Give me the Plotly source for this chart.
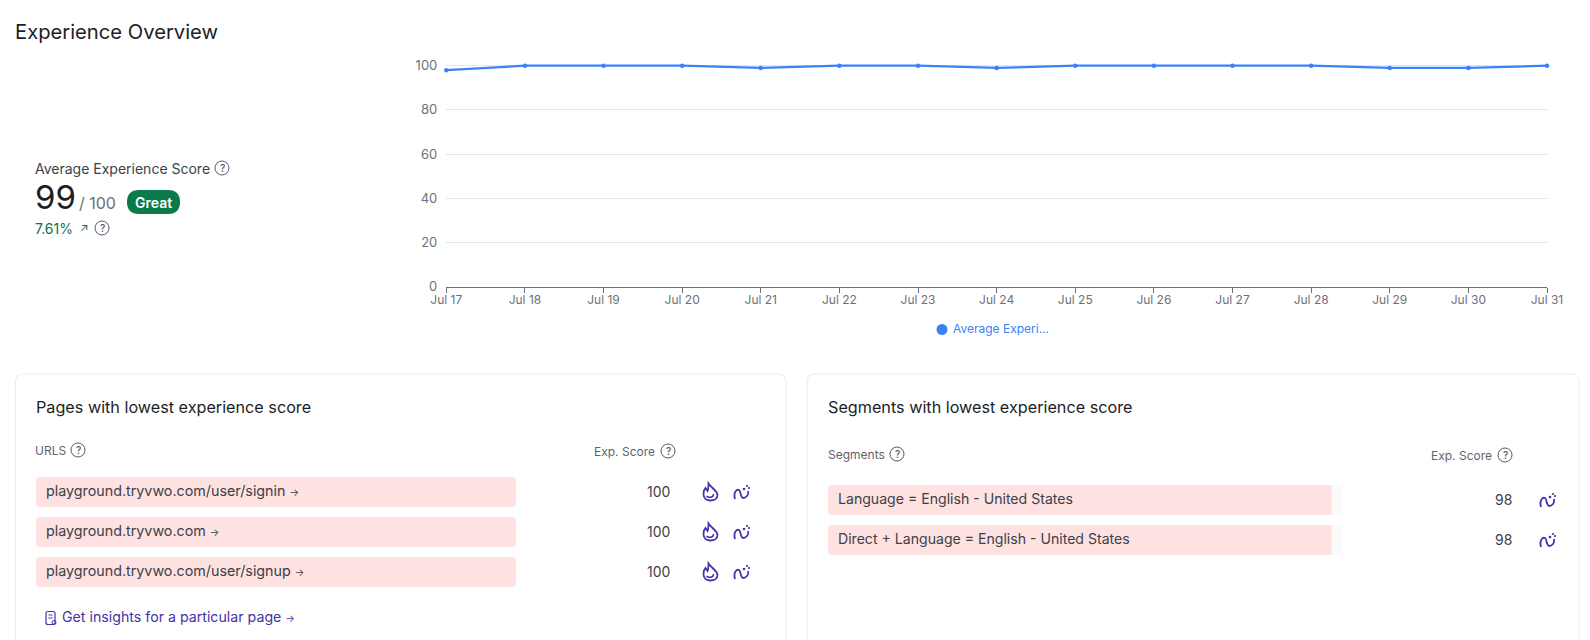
import plotly.graph_objects as go

# Chart data
days = ['Jul 17', 'Jul 18', 'Jul 19', 'Jul 20', 'Jul 21', 'Jul 22', 'Jul 23', 'Jul 24',
        'Jul 25', 'Jul 26', 'Jul 27', 'Jul 28', 'Jul 29', 'Jul 30', 'Jul 31']
daily_score = [98, 100, 100, 100, 99, 100, 100, 99, 100, 100, 100, 100, 99, 99, 100]
y_ticks = [0, 20, 40, 60, 80, 100]

pages = ['playground.tryvwo.com/user/signin', 'playground.tryvwo.com', 'playground.tryvwo.com/user/signup']
page_scores = [100, 100, 100]
segments = ['Language = English - United States', 'Direct + Language = English - United States']
segment_scores = [98, 98]

W, H = 1590, 640
BLUE = '#3b82f6'
PURPLE = '#4433a8'
INK = '#1b1e26'
BODY = '#3c3f48'
GREY = '#5f636d'
PINK = '#fee2e2'

fig = go.Figure()

# Line chart
fig.add_trace(go.Scatter(
    x=days, y=daily_score, mode='lines+markers', showlegend=False, cliponaxis=False,
    line=dict(color=BLUE, width=2.2), marker=dict(color=BLUE, size=4.5), xaxis='x', yaxis='y'
))

# Pages panel bars
fig.add_trace(go.Bar(
    y=list(range(len(pages))), x=page_scores, orientation='h', width=0.75,
    marker=dict(color=PINK, line_width=0), showlegend=False, xaxis='x2', yaxis='y2'
))
# Segments panel: pale track behind the bars
fig.add_trace(go.Bar(
    y=list(range(len(segments))), x=[100] * len(segments), orientation='h', width=0.75,
    marker=dict(color='#fafafa', line_width=0), showlegend=False, xaxis='x3', yaxis='y3'
))
fig.add_trace(go.Bar(
    y=list(range(len(segments))), x=segment_scores, orientation='h', width=0.75,
    marker=dict(color=PINK, line_width=0), showlegend=False, xaxis='x3', yaxis='y3'
))

shapes = []
annotations = []


def text(x, y, s, size=14, color=BODY, anchor='left', weight=400):
    # annotations sit about 2px in from their anchor
    shift = {'left': -2, 'right': -1, 'center': 0}[anchor]
    annotations.append(dict(
        x=x, y=y, xref='x4', yref='y4', xshift=shift, text=s, showarrow=False, xanchor=anchor, yanchor='middle',
        font=dict(size=size, color=color, weight=weight), borderpad=0
    ))


def stroke(path, color=PURPLE, width=1.5, fill=None):
    shapes.append(dict(
        type='path', path=path, xref='x4', yref='y4', layer='above',
        line=dict(color=color, width=width), fillcolor=fill or 'rgba(0,0,0,0)'
    ))


def round_box(x0, y0, x1, y1, r):
    return (f'M {x0+r},{y0} L {x1-r},{y0} Q {x1},{y0} {x1},{y0+r} L {x1},{y1-r} Q {x1},{y1} {x1-r},{y1} '
            f'L {x0+r},{y1} Q {x0},{y1} {x0},{y1-r} L {x0},{y0+r} Q {x0},{y0} {x0+r},{y0} Z')


def dot(cx, cy, r, color, line=0):
    shapes.append(dict(
        type='circle', xref='x4', yref='y4', x0=cx - r, x1=cx + r, y0=cy - r, y1=cy + r, layer='above',
        line=dict(color=color, width=line), fillcolor=color if not line else 'rgba(0,0,0,0)'
    ))


def help_icon(cx, cy):
    dot(cx, cy, 7, '#555963', line=1)
    text(cx, cy, '?', size=10, color='#555963', anchor='center', weight=500)


def flame(cx, cy):
    stroke(f'M {cx-2},{cy-8.5} C {cx+1},{cy-4} {cx+7},{cy-1} {cx+7},{cy+3} C {cx+7},{cy+7} {cx+3},{cy+8.5} {cx},{cy+8.5} '
           f'C {cx-4},{cy+8.5} {cx-7},{cy+6} {cx-7},{cy+2} C {cx-7},{cy} {cx-6},{cy-3} {cx-5},{cy-4} '
           f'L {cx-3},{cy-1} C {cx-2},{cy-3} {cx-2},{cy-6} {cx-2},{cy-8.5} Z', width=1.8)
    stroke(f'M {cx-4},{cy+4} C {cx-2},{cy+6} {cx+3},{cy+6} {cx+3},{cy+2}', width=1.5)


def heat(cx, cy):
    stroke(f'M {cx-7},{cy+7} C {cx-9},{cy} {cx-5},{cy-3} {cx-3},{cy-2} C {cx-1},{cy-1} {cx-2},{cy+5} {cx+1},{cy+6} '
           f'C {cx+4},{cy+6} {cx+7},{cy+3} {cx+6},{cy-1}', width=1.8)
    for dx, dy, r in [(2, -3, 1.3), (5, -6, 1.1), (7, -4, 1.1)]:
        dot(cx + dx, cy + dy, r, PURPLE)


# Header block
text(15.5, 31, 'Experience Overview', size=20.2, color=INK)
text(35.5, 168, 'Average Experience Score', size=14)
help_icon(222, 168)
text(35.5, 197, '99', size=33, color=INK)
text(80, 203, '/ 100', size=16, color='#6b6f78')
stroke(round_box(127, 190, 180, 214, 12), color='#0b7a4b', width=0, fill='#0b7a4b')
text(153.5, 202, 'Great', size=14, color='white', anchor='center', weight=600)
text(35.5, 228, '7.61%', size=14, color='#10704a')
text(84, 228, '↗', size=11, color='#10704a', anchor='center')
help_icon(102, 228)

# Legend dot and label
dot(942, 329.5, 5.5, BLUE)
text(954, 328.5, 'Average Experi...', size=12, color=BLUE)

# Cards run off the bottom of the page
stroke(round_box(15.5, 374, 786, 700, 8), color='#e8eaef', width=1)
stroke(round_box(807, 374, 1579, 700, 8), color='#e8eaef', width=1)

# Pages panel
text(37, 406.5, 'Pages with lowest experience score', size=16.2, color=INK)
text(36, 450.5, 'URLS', size=12, color=GREY)
help_icon(78, 450)
text(657, 451.5, 'Exp. Score', size=12, color=GREY, anchor='right')
help_icon(668, 451)
for i, (page, score) in enumerate(zip(pages, page_scores)):
    annotations.append(dict(
        x=0, y=i, xref='x2', yref='y2', xshift=8, yshift=1, text=f'{page} <span style="font-size:10px">→</span>',
        showarrow=False, xanchor='left', yanchor='middle', font=dict(size=14.3, color=BODY)
    ))
    row_y = 492 + i * 40
    text(672, row_y - 1, str(score), size=14, anchor='right')
    flame(710.5, row_y)
    heat(742, row_y)
stroke(round_box(46, 611.5, 55, 624.5, 2) + ' M 48.5,615 L 52.5,615 M 48.5,618 L 52.5,618', width=1.2)
dot(54, 622.5, 2, PURPLE, line=1)
text(63, 617, 'Get insights for a particular page <span style="font-size:10px">→</span>', size=14.2, color=PURPLE)

# Segments panel
text(829, 406.5, 'Segments with lowest experience score', size=16.2, color=INK)
text(828.5, 454.5, 'Segments', size=12, color=GREY)
help_icon(897, 454)
text(1494, 455.5, 'Exp. Score', size=12, color=GREY, anchor='right')
help_icon(1505, 455)
for i, (segment, score) in enumerate(zip(segments, segment_scores)):
    annotations.append(dict(
        x=0, y=i, xref='x3', yref='y3', xshift=8, yshift=1, text=segment,
        showarrow=False, xanchor='left', yanchor='middle', font=dict(size=14.1, color=BODY)
    ))
    row_y = 500 + i * 40
    text(1514, row_y - 1, str(score), size=14, anchor='right')
    heat(1548, row_y)

# Plotly only rounds the bar tips, so trim the left corners to match
for x0, top in [(36, 477), (36, 517), (36, 557), (828, 485), (828, 525)]:
    bottom = top + 30
    stroke(f'M {x0-0.5},{top-0.5} L {x0+4},{top-0.5} Q {x0},{top} {x0},{top+4} L {x0-0.5},{top+4} Z',
           color='white', width=0, fill='white')
    stroke(f'M {x0-0.5},{bottom+0.5} L {x0+4},{bottom+0.5} Q {x0},{bottom} {x0},{bottom-4} L {x0-0.5},{bottom-4} Z',
           color='white', width=0, fill='white')


def x_dom(a, b):
    return [a / W, b / W]


def y_dom(top, bottom):
    return [1 - bottom / H, 1 - top / H]


hidden = dict(visible=False, fixedrange=True)
fig.update_layout(
    width=W, height=H,
    margin=dict(l=0, r=0, t=0, b=0, autoexpand=False),
    paper_bgcolor='white', plot_bgcolor='rgba(0,0,0,0)',
    font=dict(family='Inter, sans-serif', color=BODY),
    showlegend=False,
    barmode='overlay', barcornerradius=4,
    xaxis=dict(
        domain=x_dom(446.3, 1547), range=[0, len(days) - 1], tickmode='array', tickvals=days, ticktext=days,
        showgrid=False, zeroline=False, showline=True, linecolor='#6e7079', linewidth=1,
        ticks='outside', ticklen=5, tickcolor='#6e7079', tickfont=dict(size=12, color='#6e7079'), tickangle=0,
        ticklabelstandoff=-3
    ),
    # a little headroom above 100 so the line is not clipped at the top
    yaxis=dict(
        domain=y_dom(61.3, 286.7), range=[0, 102], tickvals=y_ticks, showgrid=True, gridcolor='#e0e6f1',
        gridwidth=1, zeroline=False, showline=False, ticks='', tickfont=dict(size=13, color='#6e7079'),
        ticklabelstandoff=8
    ),
    xaxis2=dict(domain=x_dom(36, 516), range=[0, 100], anchor='y2', **hidden),
    yaxis2=dict(domain=y_dom(477, 587), range=[2.375, -0.375], anchor='x2', **hidden),
    xaxis3=dict(domain=x_dom(828, 1342), range=[0, 100], anchor='y3', **hidden),
    yaxis3=dict(domain=y_dom(485, 555), range=[1.375, -0.375], anchor='x3', **hidden),
    # page-sized axes used for the text and icons around the charts
    xaxis4=dict(domain=[0, 1], range=[0, W], anchor='y4', **hidden),
    yaxis4=dict(domain=[0, 1], range=[H, 0], anchor='x4', **hidden),
    shapes=shapes, annotations=annotations
)

fig.write_html("out.html", config={'displayModeBar': False}, post_script="document.body.style.margin='0';")
